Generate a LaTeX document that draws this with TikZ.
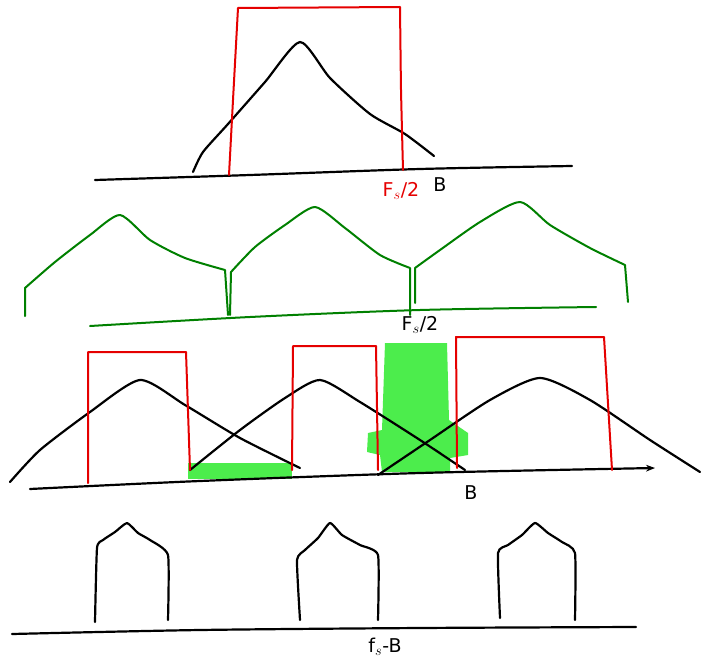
\documentclass[tikz,border=0pt]{standalone}
\usepackage{fontspec}
\setmainfont{DejaVu Sans}
\usetikzlibrary{arrows.meta}
\begin{document}
\begin{tikzpicture}[x=1pt,y=-1pt,
  ink/.style={line width=2.2pt,line cap=round,line join=round},
  blk/.style={ink,black},
  red/.style={ink,red!90!black,line width=2pt},
  grn/.style={ink,green!50!black,line width=2pt},
  hl/.style={fill=green!90!black,fill opacity=0.7,draw=none},
  lbl/.style={font=\fontsize{19}{19}\selectfont,inner sep=0pt}]
\useasboundingbox (0,0) rectangle (706,666);
% ---------- panel 1 ----------
\draw[blk] plot[smooth] coordinates {(95,180) (250,175) (420,169) (572,166)};
\draw[blk] plot[smooth,tension=0.4] coordinates {(193,172) (203,152) (228,124) (265,82) (300,42) (330,78) (370,114) (405,134) (434,156)};
\draw[red] plot[smooth,tension=0.2] coordinates {(229,175) (233,100) (238,8)} -- (400,7) -- plot[smooth,tension=0.2] coordinates {(400,7) (401,90) (403,170)};
\node[lbl,red!90!black] (fs1) at (401,191) {F$_s$/2};
\node[lbl] (b1) at (440,185) {B};
% ---------- panel 2 ----------
\draw[grn] plot[smooth] coordinates {(90,326) (250,317) (420,310) (596,307)};
\draw[grn] (25,316) -- (25,288) -- plot[smooth,tension=0.4] coordinates {(25,288) (55,262) (90,235) (120,215) (150,240) (185,258) (225,270)} -- (228,315);
\draw[grn] (230,315) -- (231,272) -- plot[smooth,tension=0.4] coordinates {(231,272) (255,247) (285,225) (315,207) (345,228) (380,255) (410,268)} -- (410,315);
\draw[grn] (415,303) -- (415,268) -- plot[smooth,tension=0.4] coordinates {(415,268) (440,250) (480,222) (520,202) (550,225) (590,248) (625,265)} -- (628,302);
\node[lbl] (fs2) at (420,325) {F$_s$/2};
% ---------- panel 3 ----------
\fill[hl] (188,463) rectangle (292,479);
\fill[hl] (385,343) -- (447,343) -- (449,420) -- (468,433) -- (468,455) -- (450,458) -- (450,472) -- (382,472) -- (380,455) -- (367,452) -- (368,433) -- (382,430) -- cycle;
\draw[blk,-{Stealth[length=9pt]}] plot[smooth] coordinates {(30,489) (200,481) (420,473) (655,468)};
\draw[blk] plot[smooth,tension=0.4] coordinates {(10,482) (40,450) (90,412) (140,380) (185,405) (240,438) (300,468)};
\draw[blk] plot[smooth,tension=0.4] coordinates {(190,470) (240,430) (285,398) (320,380) (360,402) (420,440) (465,470)};
\draw[blk] plot[smooth,tension=0.4] coordinates {(378,475) (430,440) (490,400) (540,378) (590,400) (650,440) (700,472)};
\draw[red] (88,483) -- (88,352) -- (186,352) -- (190,470);
\draw[red] (292,470) -- (293,346) -- (376,346) -- (378,470);
\draw[red] (457,468) -- (456,337) -- (604,337) -- (612,470);
\node[lbl] (b3) at (471,493) {B};
% ---------- panel 4 ----------
\draw[blk] plot[smooth] coordinates {(12,634) (200,630) (420,628) (636,627)};
\draw[blk] plot[smooth,tension=0.3] coordinates {(95,622) (97,548) (103,540) (115,532) (127,523) (138,533) (150,540) (168,555) (168,620)};
\draw[blk] plot[smooth,tension=0.3] coordinates {(300,620) (297,560) (305,550) (318,538) (330,523) (342,535) (360,545) (378,555) (378,620)};
\draw[blk] plot[smooth,tension=0.3] coordinates {(500,618) (498,553) (508,545) (522,535) (535,523) (548,533) (562,542) (575,553) (575,620)};
\node[lbl] (fsb) at (385,647) {f$_s$-B};
\end{tikzpicture}
\end{document}
